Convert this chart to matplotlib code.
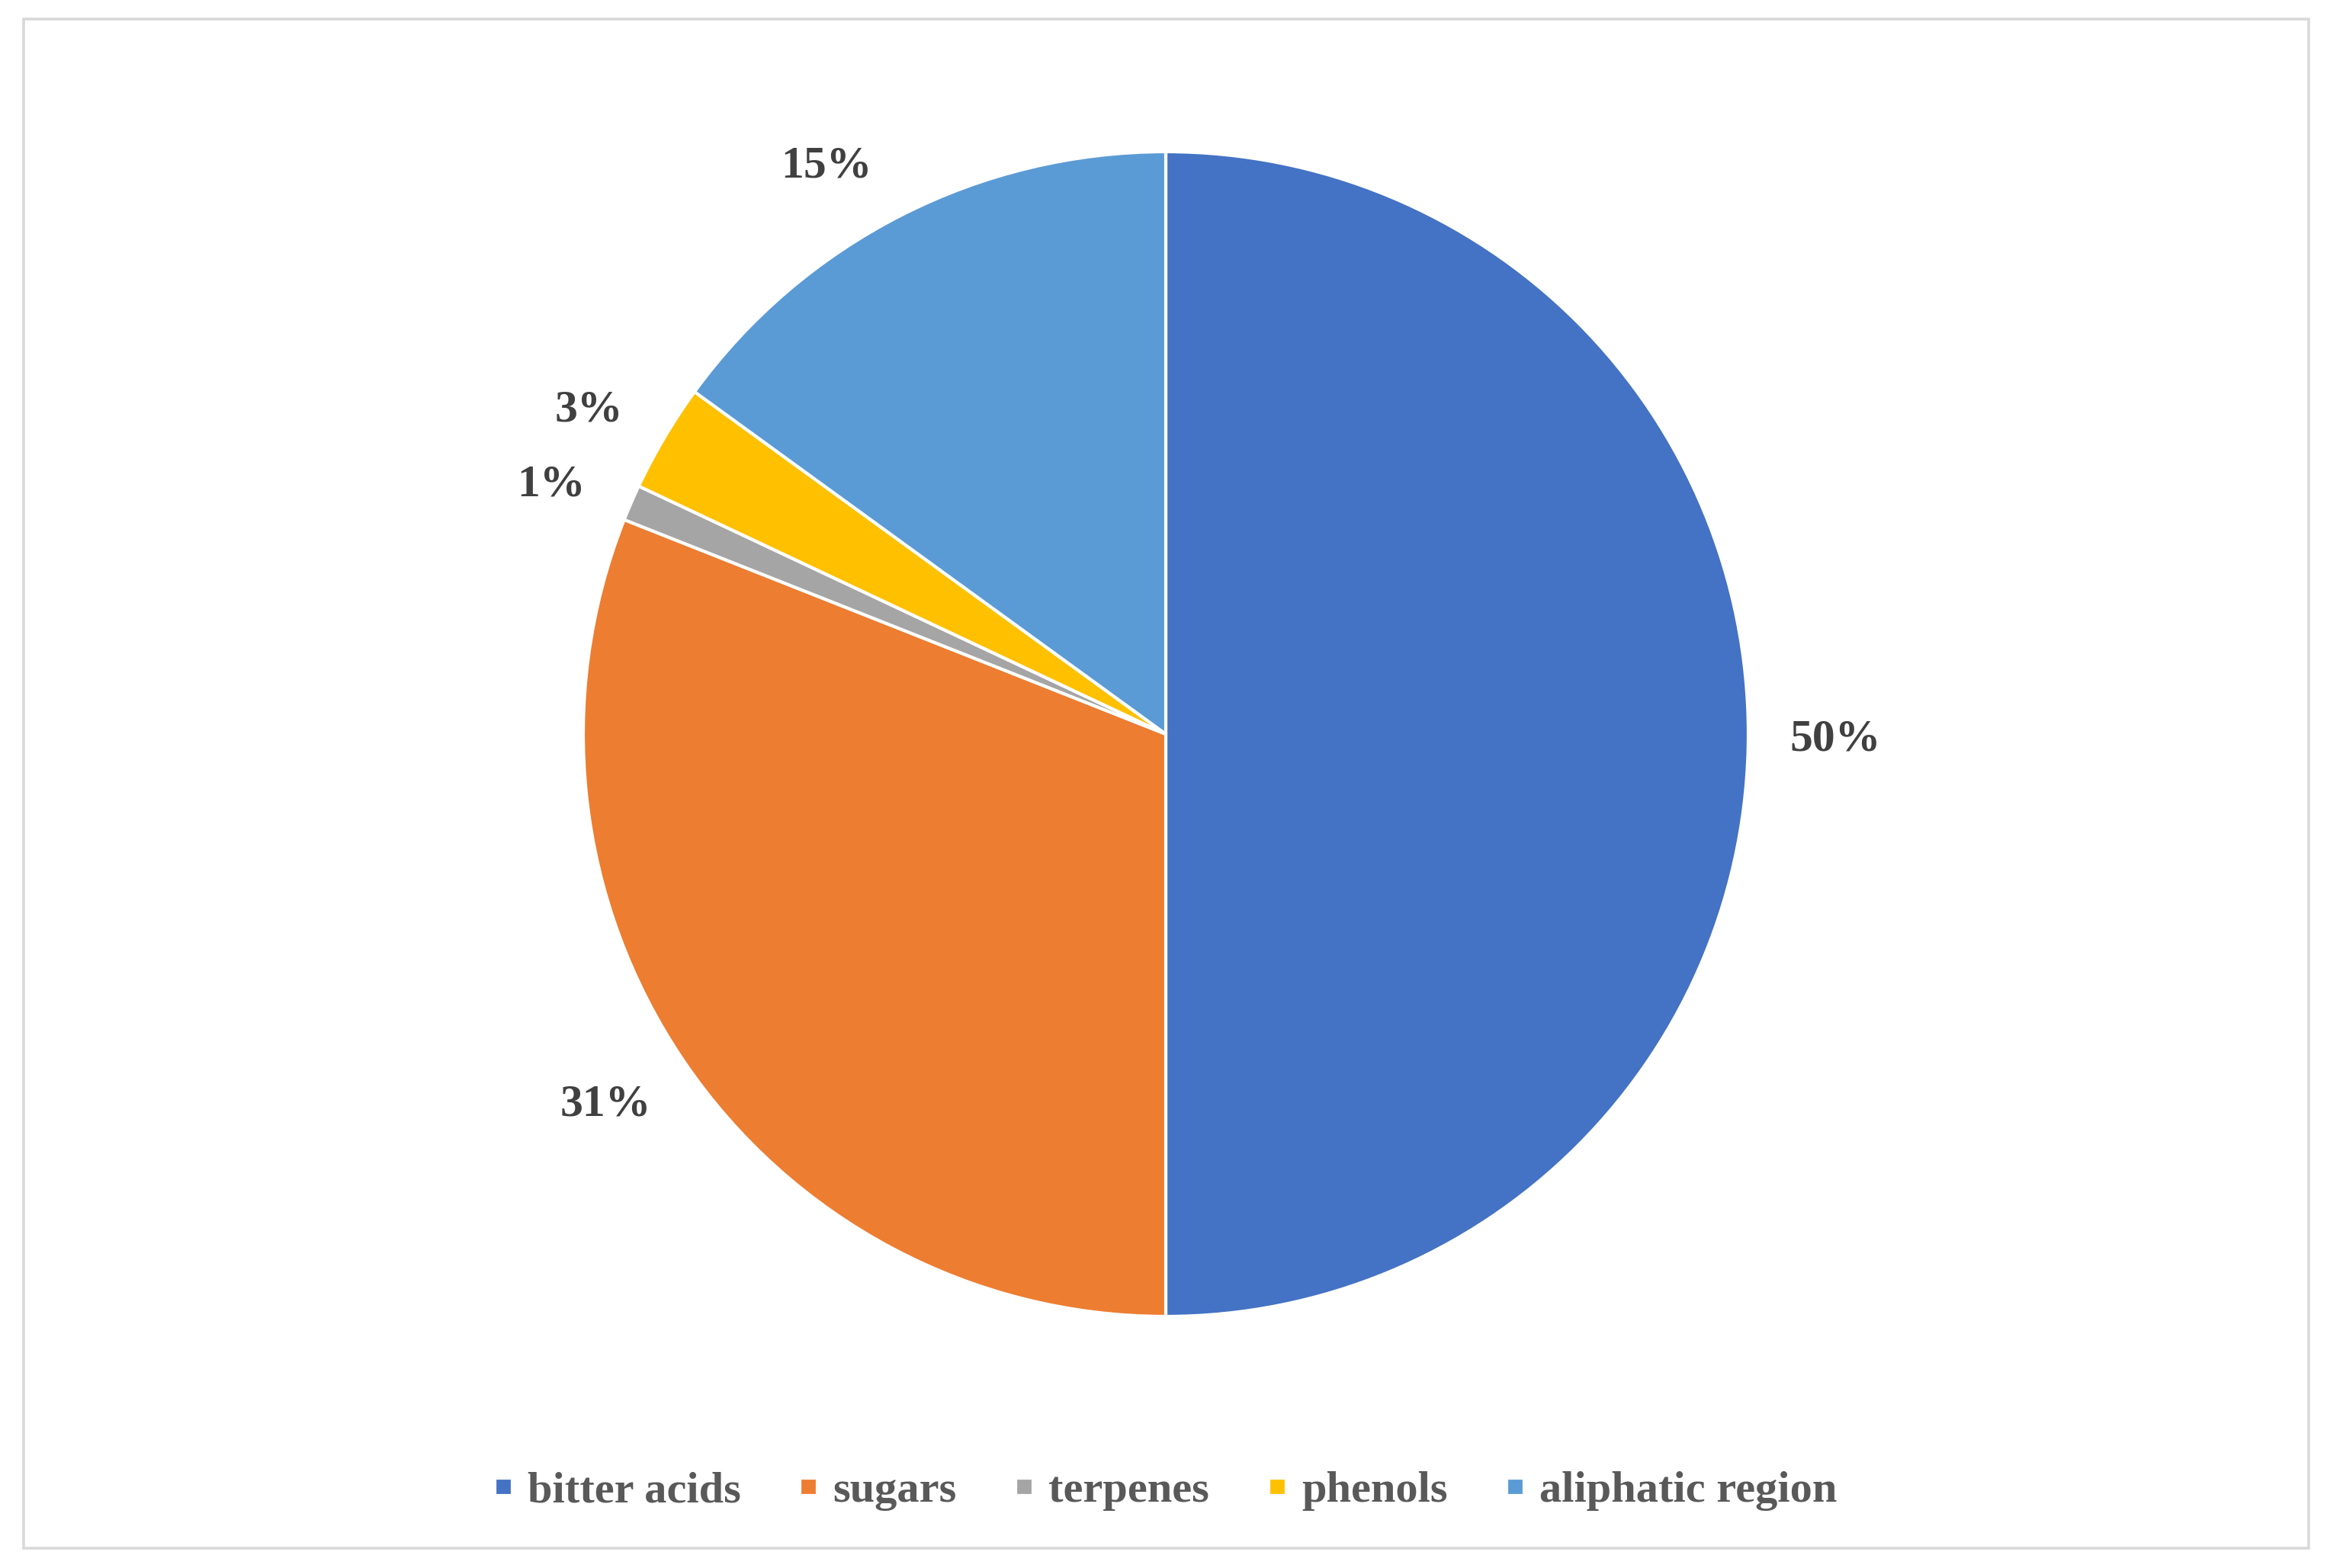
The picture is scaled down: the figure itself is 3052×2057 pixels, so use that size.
import matplotlib.pyplot as plt
from matplotlib.lines import Line2D
from matplotlib.patches import Rectangle

labels = ['bitter acids', 'sugars', 'terpenes', 'phenols', 'aliphatic region']
shares = [50, 31, 1, 3, 15]
colors = ['#4472C4', '#ED7D31', '#A5A5A5', '#FFC000', '#5B9BD5']

W, H = 3052, 2057
dpi = 200
fig = plt.figure(figsize=(W / dpi, H / dpi), dpi=dpi)
fig.patch.set_facecolor('white')

# light gray chart-area border
fig.patches.append(Rectangle((31 / W, 1 - 2031 / H), (3028 - 31) / W, (2031 - 25) / H,
                             transform=fig.transFigure, fill=False,
                             edgecolor='#D9D9D9', linewidth=1.3))

cx, cy, r = 1529, 963, 764
ax = fig.add_axes([(cx - r) / W, 1 - (cy + r) / H, 2 * r / W, 2 * r / H])

wedges, texts, autotexts = ax.pie(
    shares, colors=colors, startangle=90, counterclock=False,
    autopct='%1.0f%%', pctdistance=1.15,
    wedgeprops=dict(edgecolor='white', linewidth=1.5),
    textprops=dict(family='Liberation Serif', fontweight='bold',
                   fontsize=21.5, color='#404040'))

# excel puts the small-slice labels slightly lower / further round
for t, (dx, dy) in zip(autotexts, [(0, -0.01), (-0.01, 0.01), (0, -0.03),
                                    (0, -0.03), (-0.06, -0.05)]):
    x, y = t.get_position()
    t.set_position((x + dx, y + dy))

ax.set_xlim(-1, 1)
ax.set_ylim(-1, 1)
ax.set_aspect('equal')
ax.axis('off')

handles = [Line2D([], [], marker='s', linestyle='none', markersize=5.5,
                  markerfacecolor=c, markeredgecolor=c) for c in colors]
fig.legend(handles, labels, loc='center', bbox_to_anchor=(0.5, 1 - 1956 / H),
           ncol=5, frameon=False, handlelength=0.6, handletextpad=0.25,
           columnspacing=1.22,
           prop=dict(family='Liberation Serif', weight='bold', size=21),
           labelcolor='#595959')

fig.savefig('out.png', dpi=dpi)
